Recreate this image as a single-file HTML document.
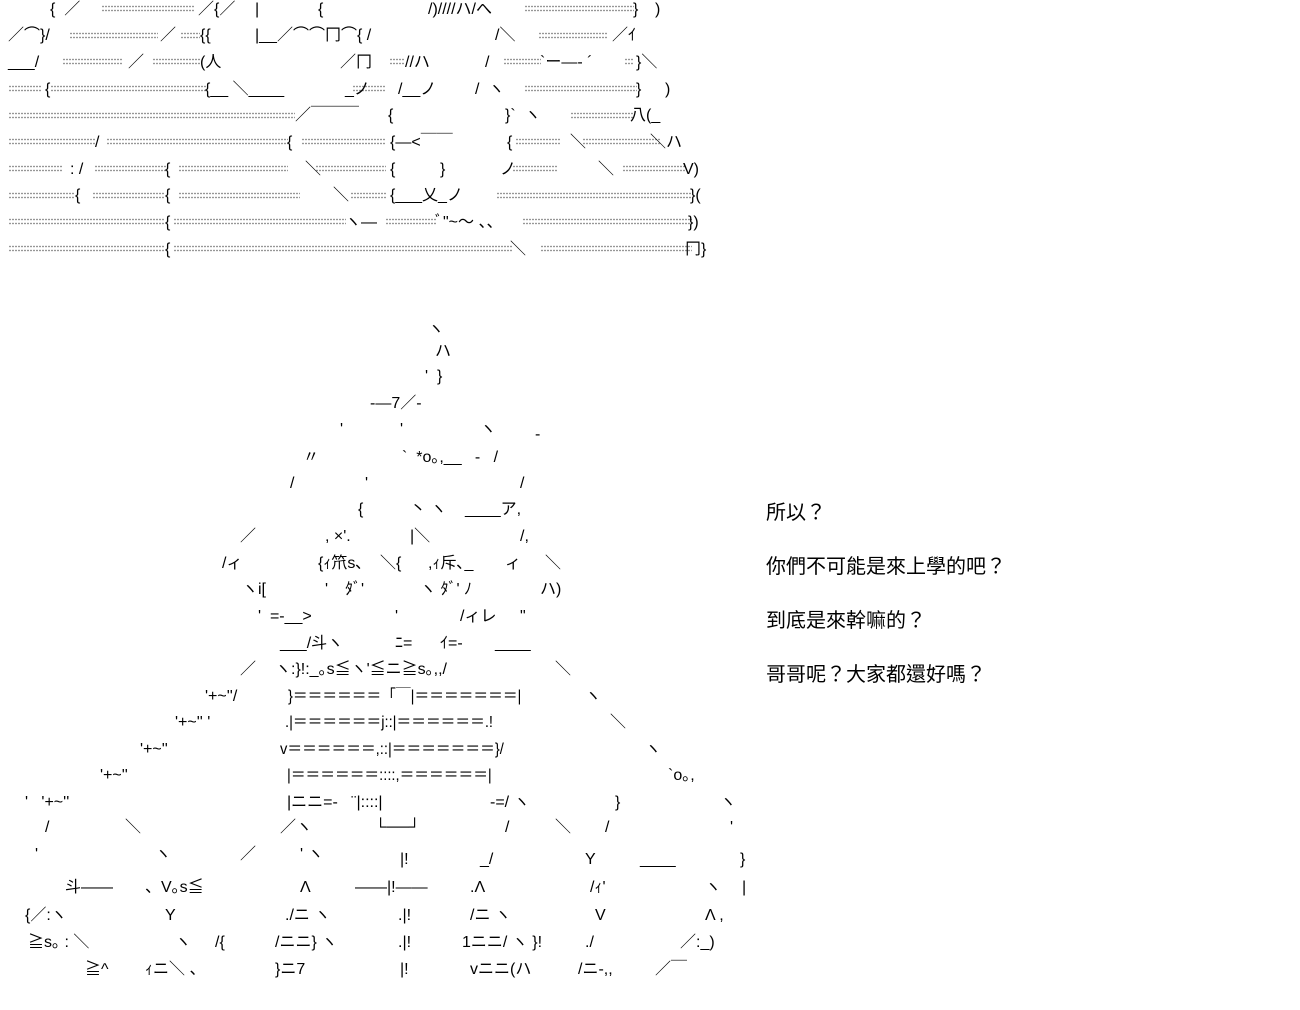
<!DOCTYPE html>
<html><head><meta charset="utf-8"><style>
html,body{margin:0;padding:0;background:#fff;}
#c{position:relative;width:1300px;height:1010px;overflow:hidden;background:#fff;}
.d{position:absolute;height:8px;background-image:radial-gradient(circle at 1px 1.5px,#777 0.6px,transparent 1px);background-size:3px 4px;}
.t{position:absolute;white-space:pre;font:16px/20px "Liberation Sans","Noto Sans CJK JP",sans-serif;color:#000;}
.w{transform:scaleX(0.92);transform-origin:0 0;}
.r{position:absolute;left:766px;white-space:pre;font:20px/26px "Liberation Sans","Noto Sans CJK TC",sans-serif;color:#000;}
</style></head><body><div id="c">
<div class="d" style="top:5px;left:102px;width:93px"></div><div class="d" style="top:5px;left:525px;width:109px"></div>
<div class="d" style="top:32px;left:70px;width:88px"></div><div class="d" style="top:32px;left:181px;width:19px"></div><div class="d" style="top:32px;left:539px;width:69px"></div>
<div class="d" style="top:58px;left:63px;width:60px"></div><div class="d" style="top:58px;left:153px;width:47px"></div><div class="d" style="top:58px;left:390px;width:14px"></div><div class="d" style="top:58px;left:504px;width:37px"></div><div class="d" style="top:58px;left:625px;width:9px"></div>
<div class="d" style="top:85px;left:9px;width:33px"></div><div class="d" style="top:85px;left:51px;width:156px"></div><div class="d" style="top:85px;left:353px;width:33px"></div><div class="d" style="top:85px;left:525px;width:112px"></div>
<div class="d" style="top:112px;left:9px;width:286px"></div><div class="d" style="top:112px;left:571px;width:63px"></div>
<div class="d" style="top:138px;left:9px;width:86px"></div><div class="d" style="top:138px;left:107px;width:181px"></div><div class="d" style="top:138px;left:302px;width:84px"></div><div class="d" style="top:138px;left:516px;width:44px"></div><div class="d" style="top:138px;left:583px;width:77px"></div>
<div class="d" style="top:165px;left:9px;width:54px"></div><div class="d" style="top:165px;left:95px;width:72px"></div><div class="d" style="top:165px;left:179px;width:109px"></div><div class="d" style="top:165px;left:316px;width:70px"></div><div class="d" style="top:165px;left:513px;width:44px"></div><div class="d" style="top:165px;left:623px;width:63px"></div>
<div class="d" style="top:192px;left:9px;width:65px"></div><div class="d" style="top:192px;left:93px;width:72px"></div><div class="d" style="top:192px;left:179px;width:121px"></div><div class="d" style="top:192px;left:351px;width:35px"></div><div class="d" style="top:192px;left:497px;width:195px"></div>
<div class="d" style="top:218px;left:9px;width:156px"></div><div class="d" style="top:218px;left:174px;width:172px"></div><div class="d" style="top:218px;left:386px;width:51px"></div><div class="d" style="top:218px;left:523px;width:169px"></div>
<div class="d" style="top:245px;left:9px;width:156px"></div><div class="d" style="top:245px;left:174px;width:339px"></div><div class="d" style="top:245px;left:541px;width:151px"></div>

<div class="t" style="top:0px;left:50px">{  ／</div><div class="t" style="top:0px;left:198px">／{／</div><div class="t" style="top:0px;left:255px">|</div><div class="t" style="top:0px;left:318px">{</div><div class="t" style="top:0px;left:428px">/)////ハ/へ</div><div class="t" style="top:0px;left:633px">}</div><div class="t" style="top:0px;left:655px">)</div>
<div class="t" style="top:26px;left:8px">／⌒}/</div><div class="t" style="top:26px;left:160px">／</div><div class="t" style="top:26px;left:200px">{{</div><div class="t" style="top:26px;left:255px">|__／⌒⌒冂⌒{ /</div><div class="t" style="top:26px;left:495px">/＼</div><div class="t" style="top:26px;left:612px">／ｲ</div>
<div class="t" style="top:53px;left:8px">___/</div><div class="t" style="top:53px;left:128px">／</div><div class="t" style="top:53px;left:200px">(人</div><div class="t" style="top:53px;left:340px">／冂</div><div class="t" style="top:53px;left:405px">//ハ</div><div class="t" style="top:53px;left:485px">/</div><div class="t" style="top:53px;left:540px">`ー―‐ ´</div><div class="t" style="top:53px;left:636px">}＼</div>
<div class="t" style="top:80px;left:45px">{</div><div class="t" style="top:80px;left:205px">{__ ＼____</div><div class="t" style="top:80px;left:345px">_ノ</div><div class="t" style="top:80px;left:398px">/__ノ</div><div class="t" style="top:80px;left:475px">/  ヽ</div><div class="t" style="top:80px;left:636px">}</div><div class="t" style="top:80px;left:665px">)</div>
<div class="t" style="top:106px;left:295px">／￣￣￣</div><div class="t" style="top:106px;left:388px">{</div><div class="t" style="top:106px;left:505px">}`  ヽ</div><div class="t" style="top:106px;left:630px">八(_</div>
<div class="t" style="top:133px;left:95px">/</div><div class="t" style="top:133px;left:287px">{</div><div class="t" style="top:133px;left:390px">{―&lt;￣￣</div><div class="t" style="top:133px;left:507px">{</div><div class="t" style="top:133px;left:570px">＼</div><div class="t" style="top:133px;left:650px">＼ハ</div>
<div class="t" style="top:160px;left:70px">: /</div><div class="t" style="top:160px;left:165px">{</div><div class="t" style="top:160px;left:305px">＼</div><div class="t" style="top:160px;left:390px">{</div><div class="t" style="top:160px;left:440px">}</div><div class="t" style="top:160px;left:500px">ノ</div><div class="t" style="top:160px;left:598px">＼</div><div class="t" style="top:160px;left:683px">V)</div>
<div class="t" style="top:186px;left:75px">{</div><div class="t" style="top:186px;left:165px">{</div><div class="t" style="top:186px;left:333px">＼</div><div class="t" style="top:186px;left:390px">{___乂_ノ</div><div class="t" style="top:186px;left:690px">}(</div>
<div class="t" style="top:213px;left:165px">{</div><div class="t" style="top:213px;left:345px">ヽ―</div><div class="t" style="top:213px;left:435px">ﾞ"~～ 、、</div><div class="t" style="top:213px;left:688px">})</div>
<div class="t" style="top:240px;left:165px">{</div><div class="t" style="top:240px;left:510px">＼</div><div class="t" style="top:240px;left:685px">冂}</div>

<div class="t" style="top:320px;left:428px">ヽ</div>
<div class="t" style="top:342px;left:435px">ハ</div>
<div class="t" style="top:367px;left:425px">'  }</div>
<div class="t" style="top:394px;left:370px">-―7／-</div>
<div class="t" style="top:420px;left:340px">'</div><div class="t" style="top:420px;left:400px">'</div><div class="t" style="top:420px;left:480px">ヽ</div><div class="t" style="top:425px;left:535px">-</div>
<div class="t" style="top:448px;left:303px">〃</div><div class="t" style="top:448px;left:402px">`  *o｡,__   -   /</div>
<div class="t" style="top:474px;left:290px">/</div><div class="t" style="top:474px;left:365px">'</div><div class="t" style="top:474px;left:520px">/</div>
<div class="t" style="top:500px;left:358px">{</div><div class="t" style="top:500px;left:410px">丶 ヽ</div><div class="t" style="top:500px;left:465px">____ア,</div>
<div class="t" style="top:527px;left:240px">／</div><div class="t" style="top:527px;left:325px">, ×'.</div><div class="t" style="top:527px;left:410px">|＼</div><div class="t" style="top:527px;left:520px">/,</div>
<div class="t" style="top:554px;left:222px">/ィ</div><div class="t" style="top:554px;left:318px">{ｨ笊s､</div><div class="t" style="top:554px;left:380px">＼{</div><div class="t" style="top:554px;left:428px">,ｨ斥､_</div><div class="t" style="top:554px;left:505px">ィ</div><div class="t" style="top:554px;left:545px">＼</div>
<div class="t" style="top:580px;left:242px">ヽi[</div><div class="t" style="top:580px;left:325px">'</div><div class="t" style="top:580px;left:345px">ﾀﾞ'</div><div class="t" style="top:580px;left:420px">ヽ ﾀﾞ' ﾉ</div><div class="t" style="top:580px;left:540px">ハ)</div>
<div class="t" style="top:607px;left:258px">'  =-__&gt;</div><div class="t" style="top:607px;left:395px">'</div><div class="t" style="top:607px;left:460px">/ィレ</div><div class="t" style="top:607px;left:520px">"</div>
<div class="t" style="top:634px;left:280px">___/斗ヽ</div><div class="t" style="top:634px;left:395px">ﾆ=</div><div class="t" style="top:634px;left:440px">ｲ=-</div><div class="t" style="top:634px;left:495px">____</div>
<div class="t" style="top:660px;left:240px">／</div><div class="t" style="top:660px;left:275px">ヽ:}!:_｡s≦ヽ'≦ニ≧s｡,,/</div><div class="t" style="top:660px;left:555px">＼</div>
<div class="t" style="top:687px;left:205px">'+~''/</div><div class="t w" style="top:687px;left:288px">}＝＝＝＝＝＝「￣|＝＝＝＝＝＝＝|</div><div class="t" style="top:687px;left:585px">ヽ</div>
<div class="t" style="top:713px;left:175px">'+~'' '</div><div class="t w" style="top:713px;left:285px">.|＝＝＝＝＝＝j::|＝＝＝＝＝＝.!</div><div class="t" style="top:713px;left:610px">＼</div>
<div class="t" style="top:740px;left:140px">'+~''</div><div class="t w" style="top:740px;left:280px">v＝＝＝＝＝＝,::|＝＝＝＝＝＝＝}/</div><div class="t" style="top:740px;left:645px">ヽ</div>
<div class="t" style="top:766px;left:100px">'+~''</div><div class="t w" style="top:766px;left:287px">|＝＝＝＝＝＝::::,＝＝＝＝＝＝|</div><div class="t" style="top:766px;left:668px">`o｡,</div>
<div class="t" style="top:793px;left:25px">'   '+~''</div><div class="t" style="top:793px;left:287px">|ニニ=-   ¨|::::|</div><div class="t" style="top:793px;left:490px">-=/ ヽ</div><div class="t" style="top:793px;left:615px">}</div><div class="t" style="top:793px;left:720px">ヽ</div>
<div class="t" style="top:818px;left:45px">/</div><div class="t" style="top:818px;left:125px">＼</div><div class="t" style="top:818px;left:280px">／ヽ</div><div class="t" style="top:818px;left:375px">└──┘</div><div class="t" style="top:818px;left:505px">/</div><div class="t" style="top:818px;left:555px">＼</div><div class="t" style="top:818px;left:605px">/</div><div class="t" style="top:818px;left:730px">'</div>
<div class="t" style="top:845px;left:35px">'</div><div class="t" style="top:845px;left:155px">ヽ</div><div class="t" style="top:845px;left:240px">／</div><div class="t" style="top:845px;left:300px">' ヽ</div><div class="t" style="top:850px;left:400px">|!</div><div class="t" style="top:850px;left:480px">_/</div><div class="t" style="top:850px;left:585px">Y</div><div class="t" style="top:850px;left:640px">____</div><div class="t" style="top:850px;left:740px">}</div>
<div class="t" style="top:878px;left:65px">斗――</div><div class="t" style="top:878px;left:145px">、V｡s≦</div><div class="t" style="top:878px;left:300px">Λ</div><div class="t" style="top:878px;left:355px">――|!――</div><div class="t" style="top:878px;left:470px">.Λ</div><div class="t" style="top:878px;left:590px">/ｨ'</div><div class="t" style="top:878px;left:705px">ヽ</div><div class="t" style="top:878px;left:742px">|</div>
<div class="t" style="top:906px;left:25px">{／:ヽ</div><div class="t" style="top:906px;left:165px">Y</div><div class="t" style="top:906px;left:285px">./ニ ヽ</div><div class="t" style="top:906px;left:398px">.|!</div><div class="t" style="top:906px;left:470px">/ニ ヽ</div><div class="t" style="top:906px;left:595px">V</div><div class="t" style="top:906px;left:705px">Λ ,</div>
<div class="t" style="top:933px;left:28px">≧s｡ : ＼</div><div class="t" style="top:933px;left:175px">ヽ</div><div class="t" style="top:933px;left:215px">/{</div><div class="t" style="top:933px;left:275px">/ニニ} ヽ</div><div class="t" style="top:933px;left:398px">.|!</div><div class="t" style="top:933px;left:462px">1ニニ/ ヽ }!</div><div class="t" style="top:933px;left:585px">./</div><div class="t" style="top:933px;left:680px">／:_)</div>
<div class="t" style="top:960px;left:85px">≧^</div><div class="t" style="top:960px;left:145px">ｨニ＼ 、</div><div class="t" style="top:960px;left:275px">}ニ7</div><div class="t" style="top:960px;left:400px">|!</div><div class="t" style="top:960px;left:470px">vニニ(ハ</div><div class="t" style="top:960px;left:578px">/ニ-,,</div><div class="t" style="top:960px;left:655px">／￣</div>

<div class="r" style="top:500px">所以？</div>
<div class="r" style="top:554px">你們不可能是來上學的吧？</div>
<div class="r" style="top:608px">到底是來幹嘛的？</div>
<div class="r" style="top:662px">哥哥呢？大家都還好嗎？</div>
</div></body></html>
